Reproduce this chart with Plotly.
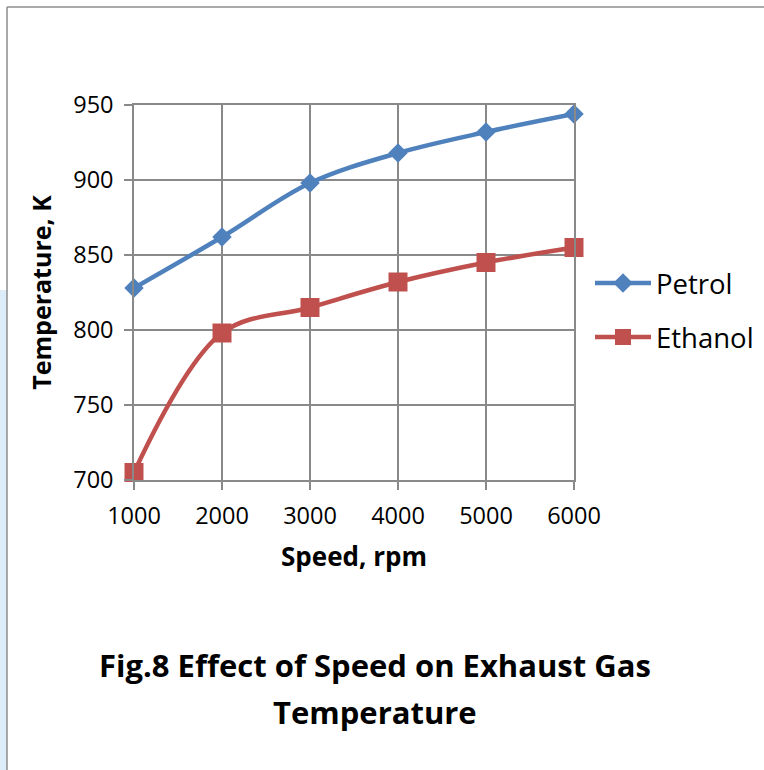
import plotly.graph_objects as go

# Engine speed (rpm) and exhaust gas temperature (K)
speed_rpm = [1000, 2000, 3000, 4000, 5000, 6000]
petrol_temp_k = [828, 862, 898, 918, 932, 944]
ethanol_temp_k = [705, 798, 815, 832, 845, 855]

x_ticks = [1000, 2000, 3000, 4000, 5000, 6000]
y_ticks = [700, 750, 800, 850, 900, 950]

caption_lines = ["Fig.8 Effect of Speed on Exhaust Gas", "Temperature"]

W, H = 764, 770
PLOT_L, PLOT_R, PLOT_T, PLOT_B = 134, 574, 105, 480
FONT = "Open Sans"
GRID = "#898989"


def px_x(px):
    return (px - PLOT_L) / (PLOT_R - PLOT_L)


def px_y(py):
    return (PLOT_B - py) / (PLOT_B - PLOT_T)


fig = go.Figure()
fig.add_trace(go.Scatter(
    x=speed_rpm, y=petrol_temp_k, name="Petrol", mode="lines+markers",
    line=dict(color="#4F81BD", width=4.5, shape="spline", smoothing=1),
    marker=dict(symbol="diamond", size=15, color="#4F81BD"),
    cliponaxis=False, legend="legend",
))
fig.add_trace(go.Scatter(
    x=speed_rpm, y=ethanol_temp_k, name="Ethanol", mode="lines+markers",
    line=dict(color="#C0504D", width=4.5, shape="spline", smoothing=1),
    marker=dict(symbol="square", size=19, color="#C0504D"),
    cliponaxis=False, legend="legend2",
))

axis_common = dict(
    showgrid=True, gridcolor=GRID, gridwidth=1.5,
    showline=True, linecolor=GRID, linewidth=1.5, mirror=True,
    ticks="outside", ticklen=8, tickcolor=GRID, tickwidth=1.5,
    tickfont=dict(family=FONT, size=23.5, color="#000000"),
    zeroline=False, fixedrange=True, automargin=False,
)

fig.update_xaxes(
    range=[1000, 6000], tickvals=x_ticks, ticklabelstandoff=6,
    title=dict(text="<b>Speed, rpm</b>", font=dict(family=FONT, size=26, color="#000000"), standoff=18),
    **axis_common,
)
fig.update_yaxes(
    range=[700, 950], tickvals=y_ticks, ticklabelstandoff=6,
    title=dict(text="<b>Temperature, K</b>", font=dict(family=FONT, size=25, color="#000000"), standoff=14),
    **axis_common,
)

# legends are placed in page coordinates so they never push the plot margins
legend_common = dict(
    font=dict(family=FONT, size=27.5, color="#000000"),
    bgcolor="rgba(0,0,0,0)", borderwidth=0, itemwidth=56,
    xref="container", yref="container",
    xanchor="left", yanchor="middle",
)

caption_font = dict(family=FONT, size=31, color="#000000")

fig.update_layout(
    width=W, height=H,
    margin=dict(l=PLOT_L, r=W - PLOT_R, t=PLOT_T, b=H - PLOT_B),
    paper_bgcolor="#ffffff", plot_bgcolor="#ffffff",
    showlegend=True,
    legend=dict(x=590 / W, y=1 - 283 / H, **legend_common),
    legend2=dict(x=590 / W, y=1 - 337 / H, **legend_common),
    annotations=[
        dict(text=f"<b>{caption_lines[0]}</b>", xref="paper", yref="paper",
             x=px_x(375), y=px_y(665), xanchor="center", yanchor="middle",
             showarrow=False, font=caption_font),
        dict(text=f"<b>{caption_lines[1]}</b>", xref="paper", yref="paper",
             x=px_x(375), y=px_y(712), xanchor="center", yanchor="middle",
             showarrow=False, font=caption_font),
    ],
    shapes=[
        # faint blue strip along the left edge of the page
        dict(type="rect", xref="paper", yref="paper",
             x0=px_x(0), x1=px_x(7), y0=px_y(H), y1=px_y(290),
             fillcolor="#dcecf8", line=dict(width=0), layer="below"),
        # page frame
        dict(type="line", xref="paper", yref="paper",
             x0=px_x(7), x1=px_x(W + 2), y0=px_y(7), y1=px_y(7),
             line=dict(color="#8c8c8c", width=1.5)),
        dict(type="line", xref="paper", yref="paper",
             x0=px_x(7), x1=px_x(7), y0=px_y(7), y1=px_y(H + 2),
             line=dict(color="#8c8c8c", width=1.5)),
    ],
)

fig.write_html("out.html")
